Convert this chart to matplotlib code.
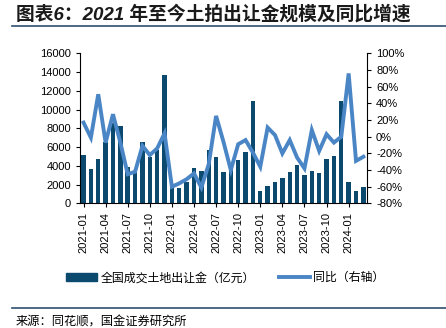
import matplotlib
matplotlib.use('Agg')
import matplotlib.pyplot as plt
from matplotlib.lines import Line2D
from matplotlib.patches import Patch
from matplotlib.ticker import FuncFormatter

plt.rcParams['font.family'] = ['Liberation Sans', 'Noto Sans CJK SC', 'DejaVu Sans']
plt.rcParams['axes.unicode_minus'] = False

# ----- Data -----
months = [f'{y}-{m:02d}' for y in (2021, 2022, 2023) for m in range(1, 13)] + ['2024-01', '2024-02', '2024-03']

land_income = [5200, 3700, 4700, 6500, 8600, 8300, 3900, 3300, 6600, 5000, 5700, 13700,
               1800, 1600, 2300, 3800, 3500, 5700, 4900, 3300, 3700, 4600, 5450, 10950,
               1300, 1800, 2300, 2750, 3350, 4100, 3000, 3500, 3250, 4700, 5050, 10950,
               2300, 1300, 1700]

yoy = [17, -1, 51, -7, 27, -7, -45, -42, -11, -22, -14, 4,
       -60, -56, -51, -44, -61, -33, 25, -6, -40, -9, -4, -19,
       -36, 11, 2, -20, -4, -25, -38, 8, -17, 3, -7, 0,
       76, -29, -24]

bar_color = '#0b4a6e'
line_color = '#4a86c5'
rule_color = '#2f4f6f'

# ----- Plotting -----
fig = plt.figure(figsize=(4.46, 3.28), dpi=100)
ax = fig.add_axes([0.179, 0.380, 0.644, 0.457])
ax2 = ax.twinx()

x = list(range(len(months)))
ax.bar(x, land_income, width=0.6, color=bar_color, zorder=2)
ax2.plot(x, [v / 100 for v in yoy], color=line_color, linewidth=2.8, solid_joinstyle='miter')

ax.set_xlim(-0.5, len(months) - 0.5)
ax.set_ylim(0, 16000)
ax.set_yticks(range(0, 16001, 2000))
ax2.set_ylim(-0.8, 1.0)
ax2.set_yticks([i / 10 for i in range(-8, 11, 2)])
ax2.yaxis.set_major_formatter(FuncFormatter(lambda v, p: f'{round(v * 100)}%'))

ax.set_xticks(x[::3])
ax.set_xticklabels(months[::3], rotation=90)

for a in (ax, ax2):
    a.spines['top'].set_visible(False)
    a.tick_params(labelsize=8, length=3, width=0.8, colors='black')
ax2.spines['left'].set_visible(False)
ax2.spines['bottom'].set_visible(False)
ax.spines['right'].set_visible(False)

# legend
handles = [Patch(facecolor=bar_color, edgecolor=bar_color),
           Line2D([0], [0], color=line_color, linewidth=2.8)]
fig.legend(handles, ['全国成交土地出让金（亿元）', '同比（右轴）'],
           loc='center', bbox_to_anchor=(0.505, 0.152), ncol=2, frameon=False,
           fontsize=8.6, handlelength=2.6, handleheight=0.7, columnspacing=2.0, handletextpad=0.3)

# title, rules and source
fig.text(0.035, 0.958, '图表6：2021 年至今土拍出让金规模及同比增速', fontsize=13.5,
         fontweight='bold', fontstyle='italic', va='center', ha='left', color='#1a1a1a')
fig.add_artist(Line2D([0.027, 1.0], [0.921, 0.921], color=rule_color, linewidth=1.2))
fig.add_artist(Line2D([0.027, 1.0], [0.061, 0.061], color=rule_color, linewidth=1.2))
fig.text(0.035, 0.018, '来源：同花顺，国金证券研究所', fontsize=8.8, va='center', ha='left')

fig.savefig('out.png', dpi=100)
